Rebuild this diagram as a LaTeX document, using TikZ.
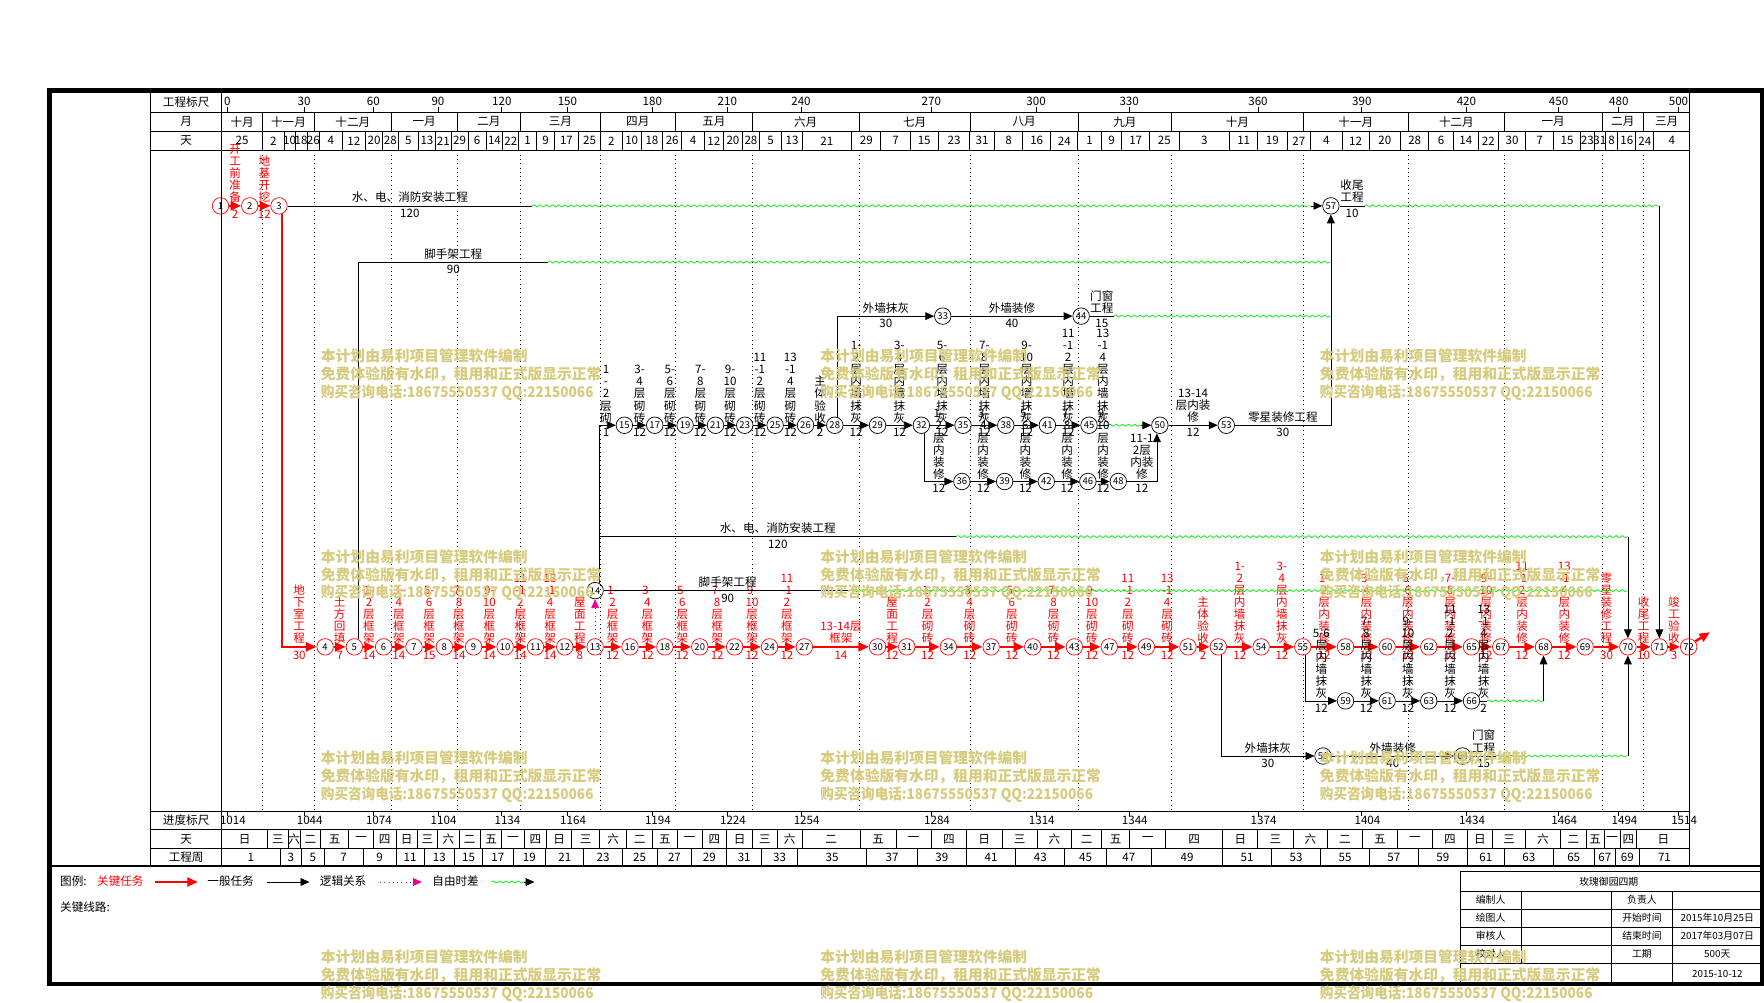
\documentclass[tikz,border=0pt]{standalone}
\usepackage{fontspec}
\setmainfont{Noto Sans CJK SC}
\usetikzlibrary{arrows.meta,decorations.pathmorphing}

\definecolor{wmark}{RGB}{214,203,125}
\definecolor{slackgreen}{RGB}{0,235,0}

\newcommand{\lfont}{\fontsize{6.6}{6.9}\selectfont}
\newcommand{\nfont}{\fontsize{5.4}{5.6}\selectfont}
\newcommand{\hfont}{\fontsize{6.6}{7}\selectfont}
\newcommand{\tfont}{\fontsize{5.6}{6}\selectfont}
\newcommand{\wfont}{\fontsize{8.4}{10.2}\selectfont\bfseries}

\tikzstyle{ev} = [draw, circle, minimum size=9.4pt, inner sep=0pt, font=\nfont]
\tikzstyle{evc} = [ev, draw=red]
\tikzstyle{task} = [draw, -{Triangle[length=5pt,width=4.4pt]}]
\tikzstyle{crit} = [draw=red, line width=1.4pt, -{Triangle[length=6pt,width=5pt]}]
\tikzstyle{slack} = [draw=slackgreen, decorate, decoration={snake, amplitude=0.6pt, segment length=3.5pt}]
\tikzstyle{logic} = [draw=magenta, dotted, -{Triangle[length=5pt,width=4.4pt]}]
\tikzstyle{vlab} = [align=center, inner sep=1pt, font=\lfont]
\tikzstyle{clab} = [vlab, above, text=red]
\tikzstyle{cdur} = [below, inner sep=1.5pt, font=\lfont, text=red]
\tikzstyle{blab} = [vlab, above]
\tikzstyle{bdur} = [below, inner sep=1.5pt, font=\lfont]
\tikzstyle{hlab} = [above, inner sep=1.5pt, align=center, font=\lfont]
\tikzstyle{hdur} = [below, inner sep=1.5pt, font=\lfont]
\tikzstyle{tabline} = [line width=0.5pt]
\tikzstyle{monthline} = [dotted, line width=0.45pt]
\tikzstyle{outerframe} = [line width=2.4pt]
\tikzstyle{wm} = [text=wmark, font=\wfont, align=left, anchor=north west, inner sep=0pt]

\begin{document}
\begin{tikzpicture}[x=0.0225cm, y=-0.0225cm]
\useasboundingbox (0,0) rectangle (1568,890.7);

	% Frame and table lines
	\draw[outerframe] (44,80.5) rectangle (1566,875);
	\draw[tabline] (134,80.5) -- (134,770);
	\draw[tabline] (197,80.5) -- (197,770);
	\draw[tabline] (1502,80.5) -- (1502,770);
	\foreach \y in {99.8,116.7,133.6,721,737.5,754}
		\draw[tabline] (134,\y) -- (1502,\y);
	\draw[line width=1.2pt] (44,770) -- (1566,770);

	% Row titles
	\node[font=\hfont] at (165.5,90.5) {工程标尺};
	\node[font=\hfont] at (165.5,108.3) {月};
	\node[font=\hfont] at (165.5,125.2) {天};
	\node[font=\hfont] at (165.5,729.3) {进度标尺};
	\node[font=\hfont] at (165.5,745.8) {天};
	\node[font=\hfont] at (165.5,762.2) {工程周};

	% Scales
	\foreach \x/\v/\w in {202/0/1014, 270.3/30/1044, 331.8/60/1074, 389.3/90/1104,
		446.1/120/1134, 504.4/150/1164, 579.8/180/1194, 646.5/210/1224, 712/240/1254,
		827.9/270/1284, 921/300/1314, 1003.7/330/1344, 1118.2/360/1374, 1210.5/390/1404,
		1303.5/420/1434, 1385.4/450/1464, 1439/480/1494, 1492/500/1514} {
		\draw[tabline] (\x,95.5) -- (\x,99.8);
		\node[font=\hfont] at (\x,90.3) {\v};
		\draw[tabline] (\x,721) -- (\x,725.3);
		\node[font=\hfont] at (\x+5,729.3) {\w};
	}

	% Months
	\foreach \a/\b/\m in {197/233.4/十月, 233.4/279.5/十一月, 279.5/347.7/十二月,
		347.7/406.4/一月, 406.4/462.8/二月, 462.8/533.4/三月, 533.4/600.4/四月,
		600.4/668.7/五月, 668.7/763.7/六月, 763.7/862.3/七月, 862.3/958.3/八月,
		958.3/1041.4/九月, 1041.4/1158.4/十月, 1158.4/1252/十一月, 1252/1337.2/十二月,
		1337.2/1424/一月, 1424/1461/二月, 1461/1502/三月} {
		\draw[tabline] (\b,99.8) -- (\b,116.7);
		\node[font=\hfont] at ({(\a+\b)/2},108.3) {\m};
	}
	\foreach \x in {233.4,279.5,347.7,406.4,462.8,533.4,600.4,668.7,763.7,862.3,
		958.3,1041.4,1158.4,1252,1337.2,1424,1461}
		\draw[monthline] (\x,133.6) -- (\x,721);

	% Days
	\foreach \a/\b/\lbl in {197/233.4/25, 233.4/252.4/2, 252.4/262.4/10, 262.4/273/18,
		273/284/26, 284/304/4, 304/325/12, 325/340/20, 340/354/28, 354/372/5, 372/387/13,
		387/401/21, 401/416/29, 416/432/6, 432/447/14, 447/461/22, 461/477/1, 477/493/9,
		493/514/17, 514/534/25, 534/553/2, 553/570/10, 570/589/18, 589/606/26, 606/626/4,
		626/643/12, 643/660/20, 660/675/28, 675/695/5, 695/713/13, 713/757/21, 757/783/29,
		783/809/7, 809/834/15, 834/862/23, 862/884/31, 884/909/8, 909/934/16, 934/958/24,
		958/979/1, 979/997/9, 997/1022/17, 1022/1048/25, 1048/1093/3, 1093/1118/11,
		1118/1144/19, 1144/1165/27, 1165/1193/4, 1193/1217/12, 1217/1245/20, 1245/1270/28,
		1270/1292/6, 1292/1314/14, 1314/1332/22, 1332/1356/30, 1356/1381/7, 1381/1405/15,
		1405/1417/23, 1417/1427/31, 1427/1438/8, 1438/1454/16, 1454/1470/24, 1470/1502/4} {
		\draw[tabline] (\b,116.7) -- (\b,133.6);
		\node[font=\hfont] at ({(\a+\b)/2},125.2) {\lbl};
	}

	% Weekdays
	\foreach \a/\b/\lbl in {197/238/日, 238/256/三, 256/267/六, 267/285/二, 285/310/五,
		310/332/一, 332/352/四, 352/371/日, 371/389/三, 389/408/六, 408/427/二, 427/446/五,
		446/466/一, 466/486/四, 486/508/日, 508/533/三, 533/557/六, 557/580/二, 580/602/五,
		602/624/一, 624/646/四, 646/669/日, 669/691/三, 691/713/六, 713/764.8/二,
		764.8/796.5/五, 796.5/828/一, 828/859/四, 859/890.6/日, 890.6/922/三, 922/952.7/六,
		952.7/979.3/二, 979.3/1004.2/五, 1004.2/1036/一, 1036/1087/四, 1087/1118/日,
		1118/1149.6/三, 1149.6/1180/六, 1180/1211/二, 1211/1242/五, 1242/1273.5/一,
		1273.5/1304/四, 1304/1327/日, 1327/1356/三, 1356/1387/六, 1387/1410/二,
		1410/1426/五, 1426/1440/一, 1440/1455/四, 1455/1502/日} {
		\draw[tabline] (\b,737.5) -- (\b,754);
		\node[font=\hfont] at ({(\a+\b)/2},745.8) {\lbl};
	}

	% Weeks
	\foreach \a/\b/\lbl in {197/249/1, 249/268/3, 268/288/5, 288/323/7, 323/352/9,
		352/377/11, 377/404/13, 404/429/15, 429/456/17, 456/485/19, 485/519/21, 519/553/23,
		553/584/25, 584/615/27, 615/646/29, 646/677/31, 677/709/33, 709/770.3/35,
		770.3/815.5/37, 815.5/859/39, 859/903/41, 903/946.4/43, 946.4/983.6/45,
		983.6/1023.3/47, 1023.3/1087/49, 1087/1130/51, 1130/1174/53, 1174/1217.2/55,
		1217.2/1260.7/57, 1260.7/1304.3/59, 1304.3/1337.2/61, 1337.2/1380.7/63,
		1380.7/1417/65, 1417/1436/67, 1436/1457/69, 1457/1502/71} {
		\draw[tabline] (\b,754) -- (\b,770);
		\node[font=\hfont] at ({(\a+\b)/2},762.2) {\lbl};
	}

	% Critical events
	\foreach \n/\x in {1/196, 2/222, 3/248}
		\node[evc] (n\n) at (\x,183) {\n};
	\foreach \n/\x in {4/289, 5/315, 6/341, 7/368, 8/395, 9/421, 10/449, 11/476, 12/502,
		13/529, 16/560, 18/591, 20/622, 22/653, 24/684, 27/715, 30/780, 31/806, 34/843,
		37/881, 40/918, 43/955, 47/986, 49/1019, 51/1056, 52/1083, 54/1121, 55/1158,
		58/1196, 60/1233, 62/1270, 65/1308, 67/1334, 68/1372, 69/1409, 70/1447, 71/1475,
		72/1501}
		\node[evc] (n\n) at (\x,575) {\n};

	% Other events
	\node[ev] (n57) at (1183,183) {57};
	\node[ev] (n33) at (838,281) {33};
	\node[ev] (n44) at (961,281) {44};
	\foreach \n/\x in {15/555, 17/582, 19/609, 21/636, 23/662, 25/689, 26/716, 28/742,
		29/780, 32/819, 35/856, 38/894, 41/931, 45/968, 50/1031, 53/1090}
		\node[ev] (n\n) at (\x,378) {\n};
	\foreach \n/\x in {36/855, 39/893, 42/930, 46/967, 48/994}
		\node[ev] (n\n) at (\x,428) {\n};
	\node[ev] (n14) at (529,525) {14};
	\foreach \n/\x in {59/1196, 61/1233, 63/1270, 66/1308}
		\node[ev] (n\n) at (\x,623) {\n};
	\node[ev] (n56) at (1176,672) {56};
	\node[ev] (n64) at (1300,672) {64};

	% Free ends of slack lines
	\coordinate (w3) at (473,183);
	\coordinate (s57) at (1165,183);
	\coordinate (a57) at (1213,183);
	\coordinate (c71) at (1475,183);
	\coordinate (w5) at (487,233);
	\coordinate (j5) at (1183,233);
	\coordinate (w44) at (990,281);
	\coordinate (j44) at (1183,281);
	\coordinate (e45) at (985,378);
	\coordinate (s50) at (1014,378);
	\coordinate (w14a) at (850,477);
	\coordinate (c70a) at (1447,477);
	\coordinate (w14b) at (757,525);
	\coordinate (j14b) at (1447,525);
	\coordinate (w66) at (1322,623);
	\coordinate (c68) at (1372,623);
	\coordinate (w64) at (1330,672);
	\coordinate (c70b) at (1447,672);
	\coordinate (fin) at (1520,562);

	% Critical path
	\draw[crit] (n1) -- node[clab]{开\\工\\前\\准\\备} node[cdur]{2} (n2);
	\draw[crit] (n2) -- node[clab]{地\\基\\开\\挖} node[cdur]{12} (n3);
	\draw[crit] (n3.-70) |- node[pos=0.75,clab]{地\\下\\室\\工\\程} node[pos=0.75,cdur]{30} (n4);
	\draw[crit] (n4) -- node[clab]{土\\方\\回\\填} node[cdur]{7} (n5);
	\draw[crit] (n5) -- node[clab]{1-\\2\\层\\框\\架} node[cdur]{14} (n6);
	\draw[crit] (n6) -- node[clab]{3-\\4\\层\\框\\架} node[cdur]{14} (n7);
	\draw[crit] (n7) -- node[clab]{5-\\6\\层\\框\\架} node[cdur]{15} (n8);
	\draw[crit] (n8) -- node[clab]{7-\\8\\层\\框\\架} node[cdur]{14} (n9);
	\draw[crit] (n9) -- node[clab]{9-\\10\\层\\框\\架} node[cdur]{14} (n10);
	\draw[crit] (n10) -- node[clab]{11\\-1\\2\\层\\框\\架} node[cdur]{14} (n11);
	\draw[crit] (n11) -- node[clab]{13\\-1\\4\\层\\框\\架} node[cdur]{14} (n12);
	\draw[crit] (n12) -- node[clab]{屋\\面\\工\\程} node[cdur]{8} (n13);
	\draw[crit] (n13) -- node[clab]{1-\\2\\层\\框\\架} node[cdur]{12} (n16);
	\draw[crit] (n16) -- node[clab]{3-\\4\\层\\框\\架} node[cdur]{12} (n18);
	\draw[crit] (n18) -- node[clab]{5-\\6\\层\\框\\架} node[cdur]{12} (n20);
	\draw[crit] (n20) -- node[clab]{7-\\8\\层\\框\\架} node[cdur]{12} (n22);
	\draw[crit] (n22) -- node[clab]{9-\\10\\层\\框\\架} node[cdur]{12} (n24);
	\draw[crit] (n24) -- node[clab]{11\\-1\\2\\层\\框\\架} node[cdur]{12} (n27);
	\draw[crit] (n27) -- node[clab]{13-14层\\框架} node[cdur]{14} (n30);
	\draw[crit] (n30) -- node[clab]{屋\\面\\工\\程} node[cdur]{12} (n31);
	\draw[crit] (n31) -- node[clab]{1-\\2\\层\\砌\\砖} node[cdur]{12} (n34);
	\draw[crit] (n34) -- node[clab]{3-\\4\\层\\砌\\砖} node[cdur]{12} (n37);
	\draw[crit] (n37) -- node[clab]{5-\\6\\层\\砌\\砖} node[cdur]{12} (n40);
	\draw[crit] (n40) -- node[clab]{7-\\8\\层\\砌\\砖} node[cdur]{12} (n43);
	\draw[crit] (n43) -- node[clab]{9-\\10\\层\\砌\\砖} node[cdur]{12} (n47);
	\draw[crit] (n47) -- node[clab]{11\\-1\\2\\层\\砌\\砖} node[cdur]{12} (n49);
	\draw[crit] (n49) -- node[clab]{13\\-1\\4\\层\\砌\\砖} node[cdur]{12} (n51);
	\draw[crit] (n51) -- node[clab]{主\\体\\验\\收} node[cdur]{2} (n52);
	\draw[crit] (n52) -- node[clab]{1-\\2\\层\\内\\墙\\抹\\灰} node[cdur]{12} (n54);
	\draw[crit] (n54) -- node[clab]{3-\\4\\层\\内\\墙\\抹\\灰} node[cdur]{12} (n55);
	\draw[crit] (n55) -- node[clab]{1-\\2\\层\\内\\装\\修} node[cdur]{12} (n58);
	\draw[crit] (n58) -- node[clab]{3-\\4\\层\\内\\装\\修} node[cdur]{12} (n60);
	\draw[crit] (n60) -- node[clab]{5-\\6\\层\\内\\装\\修} node[cdur]{12} (n62);
	\draw[crit] (n62) -- node[clab]{7-\\8\\层\\内\\装\\修} node[cdur]{12} (n65);
	\draw[crit] (n65) -- node[clab]{9-\\10\\层\\内\\装\\修} node[cdur]{12} (n67);
	\draw[crit] (n67) -- node[clab]{11\\-1\\2\\层\\内\\装\\修} node[cdur]{12} (n68);
	\draw[crit] (n68) -- node[clab]{13\\-1\\4\\层\\内\\装\\修} node[cdur]{12} (n69);
	\draw[crit] (n69) -- node[clab]{零\\星\\装\\修\\工\\程} node[cdur]{30} (n70);
	\draw[crit] (n70) -- node[clab]{收\\尾\\工\\程} node[cdur]{10} (n71);
	\draw[crit] (n71) -- node[clab]{竣\\工\\验\\收} node[cdur]{3} (n72);
	\draw[crit] (n72.40) -- (fin);

	% Installation and scaffold lines
	\draw (n3) -- node[hlab]{水、电、消防安装工程} node[hdur]{120} (w3);
	\draw[slack] (w3) -- (s57);
	\draw[task] (s57) -- (n57);
	\draw (n57) -- node[hlab]{收尾\\工程} node[hdur]{10} (a57);
	\draw[slack] (a57) -- (c71);
	\draw[task] (c71) -- (n71);
	\draw (n5.60) |- node[pos=0.75,hlab]{脚手架工程} node[pos=0.75,hdur]{90} (w5);
	\draw[slack] (w5) -- (j5);
	\draw (n14.60) |- node[pos=0.75,hlab]{水、电、消防安装工程} node[pos=0.75,hdur]{120} (w14a);
	\draw[slack] (w14a) -- (c70a);
	\draw[task] (c70a) -- (n70);
	\draw (n14) -- node[hlab]{脚手架工程} node[hdur]{90} (w14b);
	\draw[slack] (w14b) -- (j14b);
	\draw[logic] (n13) -- (n14);

	% Upper chain
	\draw[task] (n14.60) |- node[pos=0.7,blab]{1\\-\\2\\层\\砌} node[pos=0.7,bdur]{1} (n15);
	\draw[task] (n15) -- node[blab]{3-\\4\\层\\砌\\砖} node[bdur]{12} (n17);
	\draw[task] (n17) -- node[blab]{5-\\6\\层\\砌\\砖} node[bdur]{12} (n19);
	\draw[task] (n19) -- node[blab]{7-\\8\\层\\砌\\砖} node[bdur]{12} (n21);
	\draw[task] (n21) -- node[blab]{9-\\10\\层\\砌\\砖} node[bdur]{12} (n23);
	\draw[task] (n23) -- node[blab]{11\\-1\\2\\层\\砌\\砖} node[bdur]{12} (n25);
	\draw[task] (n25) -- node[blab]{13\\-1\\4\\层\\砌\\砖} node[bdur]{12} (n26);
	\draw[task] (n26) -- node[blab]{主\\体\\验\\收} node[bdur]{2} (n28);
	\draw[task] (n28) -- node[blab]{1-\\2\\层\\内\\墙\\抹\\灰} node[bdur]{12} (n29);
	\draw[task] (n29) -- node[blab]{3-\\4\\层\\内\\墙\\抹\\灰} node[bdur]{12} (n32);
	\draw[task] (n32) -- node[blab]{5-\\6\\层\\内\\墙\\抹\\灰} node[bdur]{12} (n35);
	\draw[task] (n35) -- node[blab]{7-\\8\\层\\内\\墙\\抹\\灰} node[bdur]{12} (n38);
	\draw[task] (n38) -- node[blab]{9-\\10\\层\\内\\墙\\抹\\灰} node[bdur]{12} (n41);
	\draw[task] (n41) -- node[blab]{11\\-1\\2\\层\\内\\墙\\抹\\灰} node[bdur]{12} (n45);
	\draw (n45) -- node[blab]{13\\-1\\4\\层\\内\\墙\\抹\\灰} (e45);
	\draw[slack] (e45) -- (s50);
	\draw[task] (s50) -- (n50);
	\draw[task] (n50) -- node[hlab]{13-14\\层内装\\修} node[hdur]{12} (n53);
	\draw[task] (n53) -| node[pos=0.25,hlab]{零星装修工程} node[pos=0.25,hdur]{30} (n57);

	% Inner finishing branch
	\draw[task] (n32.-70) |- node[pos=0.75,blab]{1-\\2\\层\\内\\装\\修} node[pos=0.75,bdur]{12} (n36);
	\draw[task] (n36) -- node[blab]{3-\\4\\层\\内\\装\\修} node[bdur]{12} (n39);
	\draw[task] (n39) -- node[blab]{5-\\6\\层\\内\\装\\修} node[bdur]{12} (n42);
	\draw[task] (n42) -- node[blab]{7-\\8\\层\\内\\装\\修} node[bdur]{12} (n46);
	\draw[task] (n46) -- node[blab]{9-\\10\\层\\内\\装\\修} node[bdur]{12} (n48);
	\draw[task] (n48) -| node[pos=0.25,blab]{11-1\\2层\\内装\\修} node[pos=0.25,bdur]{12} (n50.-110);

	% Outer wall, upper
	\draw[task] (n28.70) |- node[pos=0.75,hlab]{外墙抹灰} node[pos=0.75,hdur]{30} (n33);
	\draw[task] (n33) -- node[hlab]{外墙装修} node[hdur]{40} (n44);
	\draw (n44) -- node[hlab]{门窗\\工程} node[hdur]{15} (w44);
	\draw[slack] (w44) -- (j44);

	% Plastering branch below the critical path
	\draw[task] (n55.-70) |- node[pos=0.75,blab]{5-6\\层\\内\\墙\\抹\\灰} node[pos=0.75,bdur]{12} (n59);
	\draw[task] (n59) -- node[blab]{7-\\8\\层\\内\\墙\\抹\\灰} node[bdur]{12} (n61);
	\draw[task] (n61) -- node[blab]{9-\\10\\层\\内\\墙\\抹\\灰} node[bdur]{12} (n63);
	\draw[task] (n63) -- node[blab]{11\\-1\\2\\层\\内\\墙\\抹\\灰} node[bdur]{12} (n66);
	\draw (n66) -- node[blab]{13\\-1\\4\\层\\内\\墙\\抹\\灰} node[bdur]{2} (w66);
	\draw[slack] (w66) -- (c68);
	\draw[task] (c68) -- (n68);

	% Outer wall, lower
	\draw[task] (n52.-70) |- node[pos=0.75,hlab]{外墙抹灰} node[pos=0.75,hdur]{30} (n56);
	\draw[task] (n56) -- node[hlab]{外墙装修} node[hdur]{40} (n64);
	\draw (n64) -- node[hlab]{门窗\\工程} node[hdur]{15} (w64);
	\draw[slack] (w64) -- (c70b);
	\draw[task] (c70b) -- (n70);

	% Legend
	\node[font=\hfont, anchor=west] (lg) at (48,783.5) {图例:};
	\node[font=\hfont, text=red] (lgk) at (107,783.5) {关键任务};
	\coordinate (k1) at (138,784); \coordinate (k2) at (176,784);
	\draw[crit] (k1) -- (k2);
	\node[font=\hfont] (lgt) at (205,783.5) {一般任务};
	\coordinate (t1) at (237,784); \coordinate (t2) at (275,784);
	\draw[task] (t1) -- (t2);
	\node[font=\hfont] (lgl) at (305,783.5) {逻辑关系};
	\coordinate (l1) at (338,784); \coordinate (l2) at (375,784);
	\draw[logic] (l1) -- (l2);
	\node[font=\hfont] (lgs) at (405,783.5) {自由时差};
	\coordinate (f1) at (437,784); \coordinate (f2) at (466,784); \coordinate (f3) at (475,784);
	\draw[slack] (f1) -- (f2);
	\draw[task] (f2) -- (f3);
	\node[font=\hfont, anchor=west] (lgc) at (48,806) {关键线路:};

	% Info table
	\draw[tabline] (1298,775) -- (1566,775);
	\draw[tabline] (1298,775) -- (1298,875);
	\foreach \y in {792,808,824,840,856}
		\draw[tabline] (1298,\y) -- (1566,\y);
	\draw[tabline] (1352,792) -- (1352,856);
	\draw[tabline] (1432,792) -- (1432,875);
	\draw[tabline] (1487,792) -- (1487,875);
	\node[font=\tfont] at (1430,783.5) {玫瑰御园四期};
	\node[font=\tfont] at (1325,800) {编制人};
	\node[font=\tfont] at (1459.5,800) {负责人};
	\node[font=\tfont] at (1325,816) {绘图人};
	\node[font=\tfont] at (1459.5,816) {开始时间};
	\node[font=\tfont] at (1526.5,816) {2015年10月25日};
	\node[font=\tfont] at (1325,832) {审核人};
	\node[font=\tfont] at (1459.5,832) {结束时间};
	\node[font=\tfont] at (1526.5,832) {2017年03月07日};
	\node[font=\tfont] at (1325,848) {校对人};
	\node[font=\tfont] at (1459.5,848) {工期};
	\node[font=\tfont] at (1526.5,848) {500天};
	\node[font=\tfont] at (1526.5,865.5) {2015-10-12};

	% Watermarks
	\foreach \x in {285,729,1173}
		\foreach \y in {310,488,667,844}
			\node[wm] at (\x,\y) {本计划由易利项目管理软件编制\\免费体验版有水印，租用和正式版显示正常\\\scalebox{0.92}[1]{购买咨询电话:18675550537 QQ:22150066}};
\end{tikzpicture}
\end{document}
